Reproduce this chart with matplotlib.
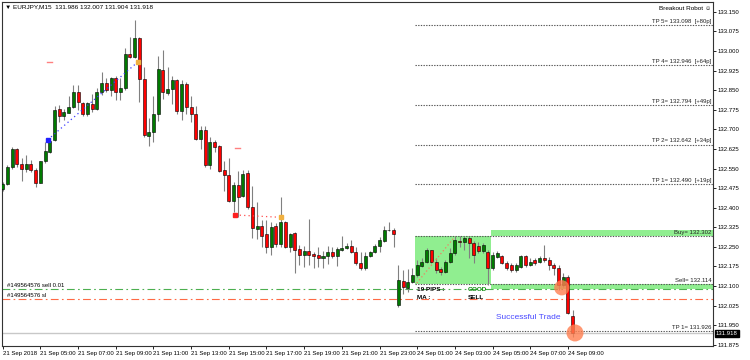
import numpy as np
import matplotlib
matplotlib.use("Agg")
import matplotlib.pyplot as plt
import matplotlib.transforms as mtransforms
from matplotlib.patches import Rectangle

plt.rcParams["font.family"] = ["Liberation Sans", "DejaVu Sans"]

# EURJPY M15 candles, 21 Sep 2018 03:00 -> 24 Sep 2018 09:15
opens = [132.472, 132.490, 132.554, 132.624, 132.568, 132.549, 132.567, 132.545, 132.496, 132.577,
         132.615, 132.660, 132.777, 132.752, 132.764, 132.787, 132.842, 132.800, 132.758, 132.798,
         132.778, 132.842, 132.877, 132.851, 132.896, 132.845, 132.858, 132.989, 132.976, 133.049,
         132.892, 132.676, 132.691, 132.759, 132.928, 132.841, 132.854, 132.890, 132.772, 132.874,
         132.787, 132.758, 132.664, 132.698, 132.564, 132.653, 132.637, 132.545, 132.526, 132.427,
         132.487, 132.445, 132.534, 132.404, 132.319, 132.330, 132.298, 132.249, 132.330, 132.261,
         132.347, 132.251, 132.302, 132.241, 132.218, 132.234, 132.222, 132.219, 132.206, 132.216,
         132.229, 132.216, 132.238, 132.245, 132.254, 132.229, 132.187, 132.168, 132.213, 132.229,
         132.254, 132.274, 132.313, 132.315, 132.028, 132.118, 132.092, 132.115, 132.142, 132.178,
         132.190, 132.236, 132.193, 132.165, 132.155, 132.193, 132.226, 132.273, 132.269, 132.283,
         132.264, 132.254, 132.234, 132.232, 132.169, 132.211, 132.213, 132.187, 132.181, 132.162,
         132.174, 132.213, 132.181, 132.200, 132.193, 132.206, 132.200, 132.181, 132.168, 132.104,
         132.136, 131.986]
highs = [132.500, 132.564, 132.632, 132.628, 132.592, 132.602, 132.583, 132.551, 132.580, 132.651,
         132.666, 132.790, 132.794, 132.777, 132.826, 132.870, 132.870, 132.806, 132.804, 132.835,
         132.858, 132.919, 132.896, 132.902, 132.906, 132.896, 133.011, 133.055, 133.119, 133.052,
         132.940, 132.745, 132.826, 132.983, 133.004, 132.938, 132.905, 132.893, 132.890, 132.883,
         132.828, 132.791, 132.713, 132.713, 132.670, 132.660, 132.641, 132.580, 132.590, 132.500,
         132.541, 132.545, 132.545, 132.483, 132.420, 132.353, 132.353, 132.347, 132.341, 132.440,
         132.349, 132.302, 132.308, 132.257, 132.255, 132.357, 132.232, 132.251, 132.234, 132.255,
         132.249, 132.251, 132.292, 132.264, 132.277, 132.251, 132.229, 132.229, 132.234, 132.260,
         132.289, 132.328, 132.347, 132.321, 132.181, 132.162, 132.164, 132.168, 132.200, 132.206,
         132.245, 132.238, 132.206, 132.174, 132.200, 132.245, 132.292, 132.292, 132.292, 132.292,
         132.273, 132.269, 132.265, 132.238, 132.231, 132.234, 132.219, 132.196, 132.188, 132.188,
         132.219, 132.219, 132.208, 132.208, 132.215, 132.257, 132.211, 132.188, 132.181, 132.150,
         132.143, 132.007]
lows = [132.462, 132.485, 132.549, 132.557, 132.503, 132.538, 132.538, 132.478, 132.494, 132.570,
        132.609, 132.656, 132.730, 132.736, 132.762, 132.781, 132.775, 132.753, 132.753, 132.768,
        132.775, 132.832, 132.842, 132.826, 132.813, 132.813, 132.851, 132.973, 132.973, 132.804,
        132.672, 132.638, 132.653, 132.732, 132.817, 132.832, 132.796, 132.759, 132.736, 132.759,
        132.727, 132.660, 132.625, 132.555, 132.547, 132.615, 132.538, 132.462, 132.421, 132.385,
        132.366, 132.440, 132.394, 132.283, 132.280, 132.251, 132.226, 132.219, 132.251, 132.251,
        132.245, 132.229, 132.149, 132.181, 132.174, 132.181, 132.168, 132.174, 132.168, 132.185,
        132.206, 132.178, 132.234, 132.242, 132.226, 132.181, 132.162, 132.162, 132.210, 132.226,
        132.232, 132.268, 132.312, 132.251, 132.019, 132.070, 132.075, 132.111, 132.136, 132.174,
        132.187, 132.187, 132.149, 132.142, 132.149, 132.187, 132.219, 132.251, 132.238, 132.208,
        132.188, 132.227, 132.227, 132.104, 132.162, 132.208, 132.185, 132.162, 132.154, 132.154,
        132.169, 132.173, 132.177, 132.181, 132.188, 132.192, 132.162, 132.142, 132.085, 132.097,
        131.993, 131.904]
closes = [132.491, 132.554, 132.624, 132.568, 132.547, 132.567, 132.545, 132.496, 132.577, 132.618,
          132.656, 132.775, 132.753, 132.766, 132.787, 132.842, 132.803, 132.759, 132.800, 132.778,
          132.842, 132.877, 132.852, 132.896, 132.845, 132.858, 132.989, 132.976, 133.049, 132.892,
          132.679, 132.691, 132.759, 132.930, 132.842, 132.854, 132.890, 132.772, 132.874, 132.785,
          132.759, 132.664, 132.698, 132.564, 132.653, 132.634, 132.542, 132.526, 132.427, 132.487,
          132.440, 132.529, 132.404, 132.321, 132.330, 132.293, 132.249, 132.325, 132.261, 132.344,
          132.251, 132.298, 132.238, 132.218, 132.234, 132.220, 132.216, 132.206, 132.216, 132.229,
          132.216, 132.241, 132.247, 132.255, 132.232, 132.187, 132.168, 132.215, 132.232, 132.255,
          132.277, 132.315, 132.316, 132.300, 132.123, 132.095, 132.115, 132.142, 132.181, 132.193,
          132.236, 132.193, 132.162, 132.155, 132.193, 132.226, 132.277, 132.269, 132.283, 132.264,
          132.219, 132.234, 132.257, 132.168, 132.219, 132.225, 132.187, 132.168, 132.162, 132.181,
          132.213, 132.181, 132.193, 132.187, 132.206, 132.200, 132.181, 132.168, 132.104, 132.136,
          131.996, 131.918]

time_labels = ["21 Sep 2018", "21 Sep 05:00", "21 Sep 07:00", "21 Sep 09:00", "21 Sep 11:00",
               "21 Sep 13:00", "21 Sep 15:00", "21 Sep 17:00", "21 Sep 19:00", "21 Sep 21:00",
               "21 Sep 23:00", "24 Sep 01:00", "24 Sep 03:00", "24 Sep 05:00", "24 Sep 07:00",
               "24 Sep 09:00"]
price_ticks = [131.875, 131.950, 132.025, 132.100, 132.175, 132.250, 132.325, 132.400, 132.475,
               132.550, 132.625, 132.700, 132.775, 132.850, 132.925, 133.000, 133.075, 133.150]

tp_names = ["TP 5", "TP 4", "TP 3", "TP 2", "TP 1"]
tp_levels = [133.098, 132.946, 132.794, 132.642, 132.490]
tp_pips = ["+80p", "+64p", "+49p", "+34p", "+19p"]
buy_level, sell_level, tp_sell = 132.302, 132.114, 131.926
box_high, box_low = 132.293, 132.108
order_price, sl_price = 132.089, 132.051
bid = 131.918

XMIN, XMAX = -0.15, 150.8
BOX_L, BOX_R = 87.5, 103.7
GREEN, RED = "#007a00", "#ff0000"

fig = plt.figure(figsize=(7.5, 3.6), dpi=100)
ax = fig.add_axes([2/750, 14/360, 711/750, 344/360])
ax.set_xlim(XMIN, XMAX)
ax.set_ylim(131.870, 133.188)

# breakout box and zones
ax.add_patch(Rectangle((BOX_L, box_low), BOX_R - BOX_L, box_high - box_low, color="#90ee90", lw=0, zorder=0))
ax.add_patch(Rectangle((BOX_R, box_high), XMAX - BOX_R, 0.022, color="#90ee90", lw=0, zorder=0))
ax.add_patch(Rectangle((BOX_R, box_low - 0.020), XMAX - BOX_R, 0.020, color="#90ee90", lw=0, zorder=0))
for lv in [box_high, box_low] + tp_levels + [tp_sell]:
    ax.plot([BOX_L, XMAX], [lv, lv], ls=(0, (1.2, 1.2)), color="#555555", lw=0.8, zorder=1)

# order / sl lines
ax.plot([XMIN, XMAX], [order_price] * 2, color="#4caf50", lw=0.8, ls=(0, (7, 3, 1.5, 3)), zorder=1)
ax.plot([XMIN, XMAX], [sl_price] * 2, color="#ff6a45", lw=0.8, ls=(0, (7, 3, 1.5, 3)), zorder=1)
ax.text(0.9, order_price + 0.004, "#149564576 sell 0.01", fontsize=4.3, va="bottom")
ax.text(0.9, sl_price + 0.004, "#149564576 sl", fontsize=4.3, va="bottom")

# bid line
ax.axhline(bid, color="#c8c8c8", lw=1.0, zorder=1)

# candles
x = np.arange(len(opens))
o, h, l, c = map(np.array, (opens, highs, lows, closes))
up = c >= o
ax.vlines(x, l, h, color="#808080", lw=0.8, zorder=2)
ax.bar(x, np.maximum(np.abs(c - o), 0.0015), bottom=np.minimum(o, c), width=0.64,
       color=np.where(up, GREEN, RED), edgecolor="black", lw=0.4, zorder=3)

# history arrows
ax.plot([9.55, 28.8], [132.660, 132.960], color="#3a3aff", ls=(0, (1, 2.5)), lw=0.9, zorder=4)
ax.plot([9.55], [132.660], "s", color="#2020ff", ms=2.5, zorder=5)
ax.plot([28.8], [132.960], "s", color="#f0b040", ms=2.2, zorder=5)
ax.plot([49.4, 59.1], [132.372, 132.363], color="#ff5050", ls=(0, (1, 2.5)), lw=0.9, zorder=4)
ax.plot([49.4], [132.372], "s", color="#ff2020", ms=2.2, zorder=5)
ax.plot([59.1], [132.363], "s", color="#f0b040", ms=2.2, zorder=5)
ax.plot([9.4, 10.5], [132.958] * 2, color="#ff8080", lw=1.0, zorder=4)
ax.plot([49.3, 50.3], [132.630] * 2, color="#ff8080", lw=1.0, zorder=4)
ax.plot([87.9, 96.0], [132.111, 132.289], color="#f08060", ls=(0, (1, 2)), lw=0.9, zorder=4)

# signal texts
ax.text(87.9, 132.086, "19 PIPS :", fontsize=4.6, fontweight="bold", va="center")
ax.text(87.9, 132.056, "MA :", fontsize=4.6, fontweight="bold", va="center")
ax.text(98.8, 132.086, "GOOD", fontsize=4.6, fontweight="bold", va="center", color="#0a8a0a")
ax.text(98.8, 132.056, "SELL", fontsize=4.6, fontweight="bold", va="center")
ax.text(104.8, 131.981, "Successful Trade", fontsize=6, color="#4a4aff", va="center")

# hit circles
ax.scatter([118.7, 121.5], [132.093, 131.920], s=[120, 150], color="#ff7f50", alpha=0.8, lw=0, zorder=6)

# level labels
for name, lv, pp in zip(tp_names, tp_levels, tp_pips):
    ax.text(150.5, lv + 0.004, f"{name}= {lv:.3f}  [{pp}]", fontsize=4.3, ha="right", va="bottom", color="#222222")
ax.text(150.5, buy_level - 0.007, f"Buy= {buy_level:.3f}", fontsize=4.3, ha="right", va="bottom", color="#222222")
ax.text(150.5, sell_level - 0.004, f"Sell= {sell_level:.3f}", fontsize=4.3, ha="right", va="bottom", color="#222222")
ax.text(150.5, tp_sell + 0.004, f"TP 1= {tp_sell:.3f}", fontsize=4.3, ha="right", va="bottom", color="#222222")

# axes styling
ax.yaxis.tick_right()
ax.set_yticks(price_ticks)
ax.set_yticklabels([f"{v:.3f}" for v in price_ticks])
ax.set_xticks(np.arange(len(time_labels)) * 8)
ax.set_xticklabels(time_labels, ha="left")
ax.tick_params(axis="both", labelsize=4.3, length=2, width=0.6, pad=1.5, colors="black")
for s in ax.spines.values():
    s.set_linewidth(0.8)
    s.set_color("#333333")

trans = mtransforms.blended_transform_factory(ax.transAxes, ax.transData)
ax.text(1.004, bid, f"{bid:.3f}", transform=trans, fontsize=4.3, color="white", va="center",
        bbox=dict(boxstyle="square,pad=0.15", fc="black", ec="black"))

fig.text(5/750, 1 - 7/360, "\u25bc " + "EURJPY,M15  131.986 132.007 131.904 131.918",
         fontsize=4.6, va="center", family=["Liberation Sans", "DejaVu Sans"])
fig.text(711/750, 1 - 8/360, "Breakout Robot \u263a", fontsize=4.6, va="center", ha="right",
         family=["Liberation Sans", "DejaVu Sans"])

fig.savefig("out.png", dpi=100)
